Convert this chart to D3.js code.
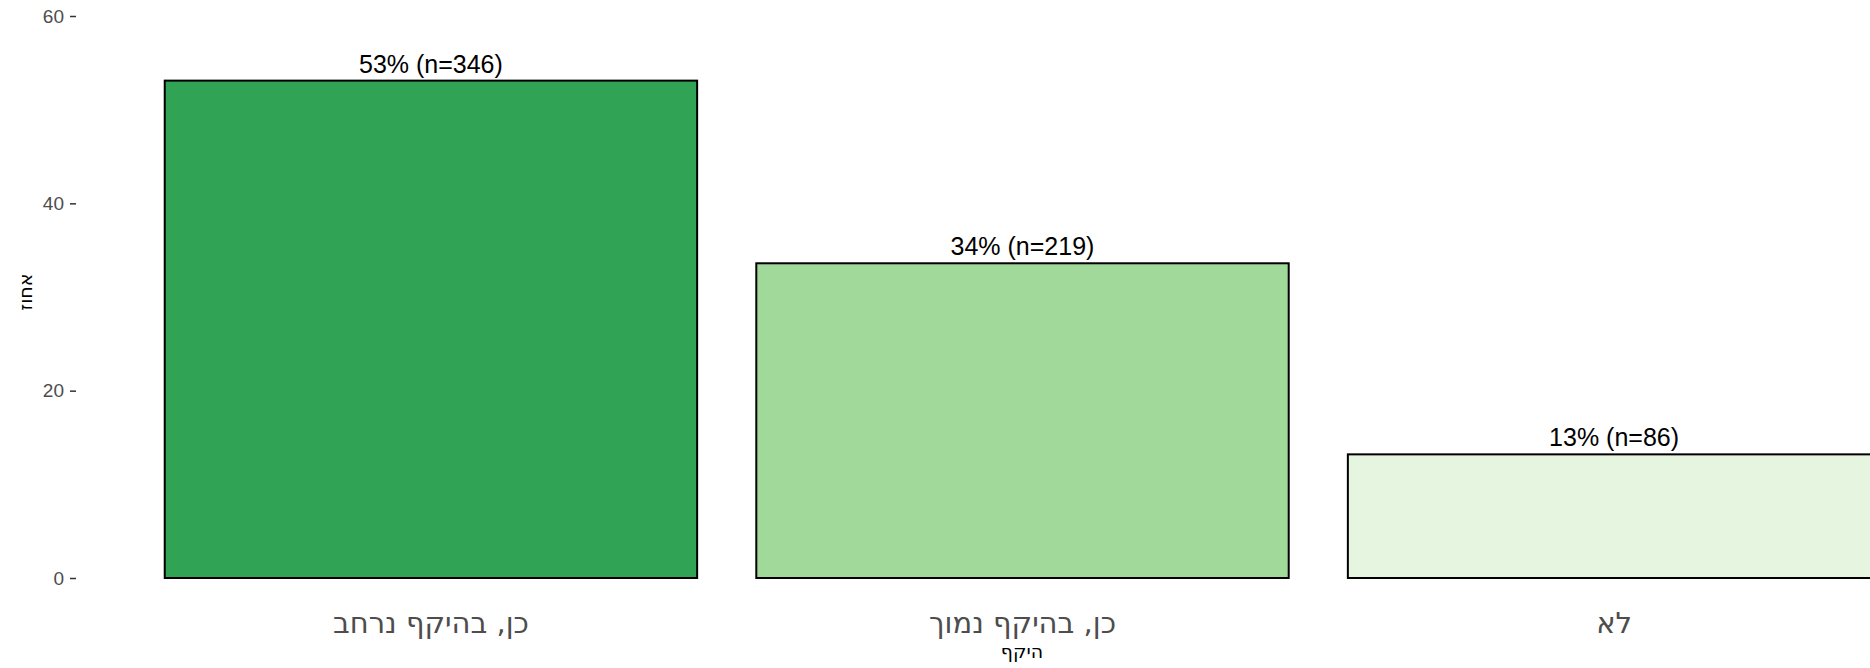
<!DOCTYPE html>
<html lang="he">
<head>
    <meta charset="UTF-8">
    <script type="text/javascript" src="https://cdn.jsdelivr.net/npm/d3@7"></script>
    <title>היקף</title>
    <style>
        body { margin: 0; background: #fff; }
        svg { display: block; font-family: "Liberation Sans", Arial, sans-serif; }
    </style>
</head>
<body>

</body>
<script>

    // data
    let categories = ["כן, בהיקף נרחב", "כן, בהיקף נמוך", "לא"]
    let percents = [53.1, 33.6, 13.2]
    let counts = [346, 219, 86]
    let colors = ["#31a354", "#a1d99b", "#e5f5e0"]
    let yTicks = [0, 20, 40, 60]

    let width = 1870,
        height = 668,
        x = d3.scaleBand()
            .domain(categories)
            .range([76, 1969])
            .paddingInner(0.1)
            .paddingOuter(0.15),
        y = d3.scaleLinear()
            .domain([0, 60])
            .range([578, 16])

    let data = categories.map(function (c, i) {
        return {cat: c, pct: percents[i], n: counts[i], color: colors[i]}
    })

    let svg = d3.select("body")
        .append("svg")
        .attr("width", width)
        .attr("height", height)

    // bars
    svg.append("g").selectAll("rect")
        .data(data)
        .enter()
        .append("rect")
        .attr("x", d => x(d.cat))
        .attr("y", d => y(d.pct))
        .attr("width", x.bandwidth())
        .attr("height", d => y(0) - y(d.pct))
        .attr("fill", d => d.color)
        .attr("stroke", "#000")
        .attr("stroke-width", 2)

    // value labels
    svg.append("g").selectAll("text")
        .data(data)
        .enter()
        .append("text")
        .attr("x", d => x(d.cat) + x.bandwidth() / 2)
        .attr("y", d => y(d.pct) - 8)
        .attr("text-anchor", "middle")
        .attr("font-size", 25)
        .attr("fill", "#000")
        .text(d => Math.round(d.pct) + "% (n=" + d.n + ")")

    // y axis
    let yAxis = svg.append("g")
        .attr("transform", "translate(76,0)")
        .call(d3.axisLeft(y).tickValues(yTicks).tickSize(6).tickPadding(6))
    yAxis.select(".domain").remove()
    yAxis.selectAll(".tick line").attr("stroke", "#333").attr("stroke-width", 1.5)
    yAxis.selectAll(".tick text")
        .attr("fill", "#4d4d4d")
        .attr("font-size", 19)
        .attr("font-family", "Liberation Sans, Arial, sans-serif")

    // x axis labels
    let xAxis = svg.append("g")
        .attr("transform", "translate(0,578)")
        .call(d3.axisBottom(x).tickSize(0).tickPadding(0))
    xAxis.select(".domain").remove()
    xAxis.selectAll(".tick text")
        .attr("dy", null)
        .attr("y", 55)
        .attr("fill", "#4d4d4d")
        .attr("font-size", 29)
        .attr("font-family", "DejaVu Sans, sans-serif")
        .attr("direction", "rtl")

    // axis titles
    svg.append("text")
        .attr("x", 1022)
        .attr("y", 658)
        .attr("text-anchor", "middle")
        .attr("font-size", 19)
        .attr("font-family", "DejaVu Sans, sans-serif")
        .text("היקף")

    svg.append("text")
        .attr("transform", "translate(32,292) rotate(-90)")
        .attr("text-anchor", "middle")
        .attr("font-size", 19)
        .attr("font-family", "DejaVu Sans, sans-serif")
        .text("אחוז")

</script>
</html>
